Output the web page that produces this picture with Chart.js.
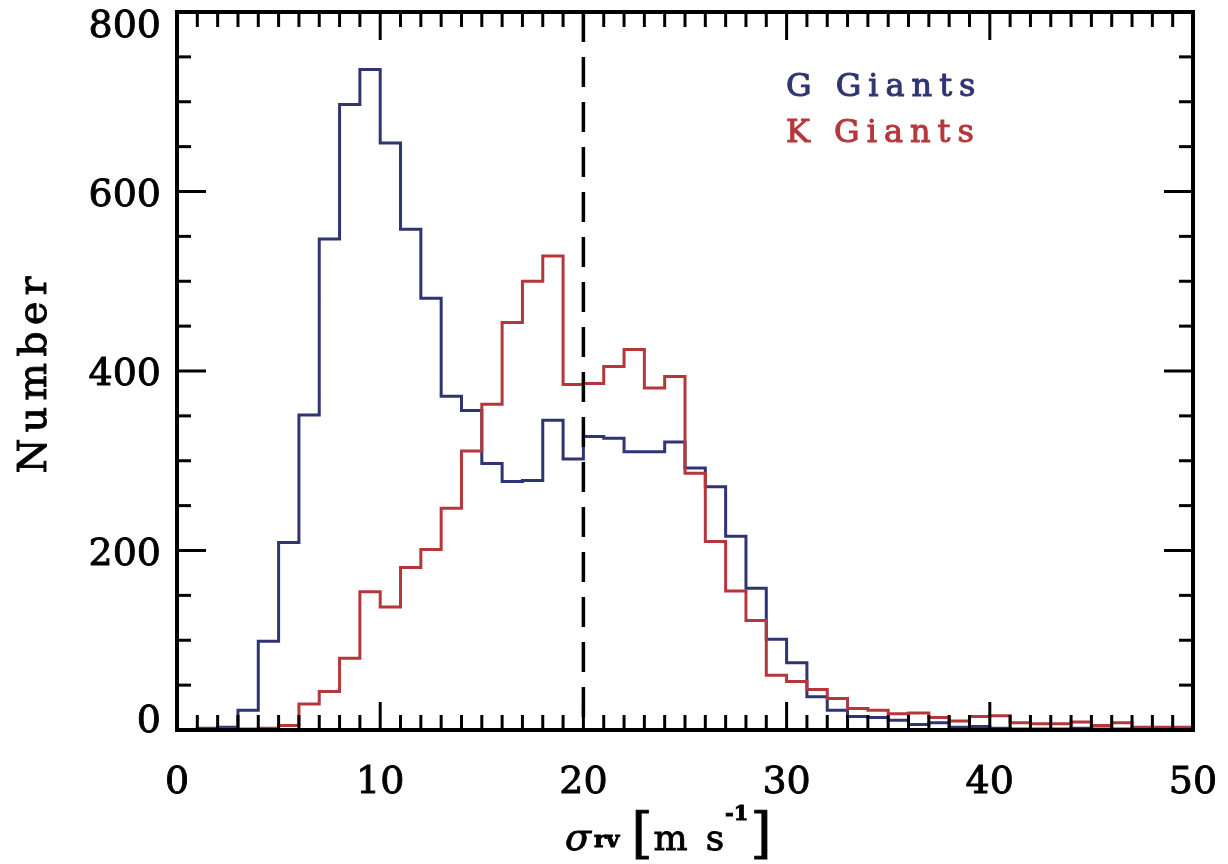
<!DOCTYPE html>
<html>
<head>
<meta charset="utf-8">
<script src="https://cdn.jsdelivr.net/npm/chart.js@4.4.1/dist/chart.umd.min.js"></script>
<style>
  html, body { margin: 0; padding: 0; background: #fff; }
  canvas { display: block; }
</style>
</head>
<body>
<canvas id="hist" width="1228" height="864"></canvas>
<script>
// histogram of RV scatter, 1 m/s bins from 0 to 50
const binStart = 0;
const binWidth = 1;
const gGiants = [0, 2, 3, 22, 99, 209, 351, 547, 697, 736,
                 654, 558, 481, 372, 356, 297, 277, 278, 345, 302,
                 327, 325, 310, 310, 321, 292, 271, 216, 158, 101,
                 75, 37, 22, 15, 14, 11, 6, 8, 3, 4,
                 2, 1, 1, 1, 2, 1, 1, 1, 0, 0];
const kGiants = [0, 1, 1, 1, 2, 5, 29, 43, 80, 154,
                 137, 181, 201, 247, 311, 363, 454, 500, 528, 385,
                 386, 405, 424, 381, 394, 286, 210, 155, 122, 61,
                 54, 45, 35, 24, 22, 18, 19, 14, 10, 15,
                 16, 8, 7, 7, 9, 5, 8, 3, 3, 3];
const refLine = 20;
const xTickLabels = ['0', '10', '20', '30', '40', '50'];
const yTickLabels = ['0', '200', '400', '600', '800'];
const legendNames = ['G Giants', 'K Giants'];

const BLUE = '#2f3572';
const RED = '#b6373b';
const SERIF = "'DejaVu Serif', serif";

// left bin edges + closing edge, drawn as a step line
function toSteps(vals) {
  const pts = vals.map((v, i) => ({ x: binStart + i * binWidth, y: v }));
  pts.push({ x: binStart + vals.length * binWidth, y: vals[vals.length - 1] });
  return pts;
}

// fill + thin stroke, the IDL fonts are a bit heavier than DejaVu
function heavyText(ctx, t, x, y, w = 0.9) {
  ctx.lineWidth = w;
  ctx.strokeStyle = ctx.fillStyle;
  ctx.fillText(t, x, y);
  ctx.strokeText(t, x, y);
}

// IDL-style box: inward ticks on all four sides, dashed marker, labels
const idlFrame = {
  id: 'idlFrame',
  afterDatasetsDraw(chart) {
    const { ctx, chartArea: a, scales: { x, y } } = chart;
    const seg = (x1, y1, x2, y2) => { ctx.beginPath(); ctx.moveTo(x1, y1); ctx.lineTo(x2, y2); ctx.stroke(); };
    ctx.save();
    ctx.strokeStyle = '#000';

    const xr = x.getPixelForValue(refLine);
    ctx.lineWidth = 3.5;
    ctx.setLineDash([30, 15]);
    seg(xr, a.top, xr, a.bottom);
    ctx.setLineDash([]);

    ctx.lineWidth = 3;
    for (let v = x.min; v <= x.max; v += 1) {
      const px = x.getPixelForValue(v);
      const len = v % 10 === 0 ? 28 : 15;
      seg(px, a.bottom, px, a.bottom - len);
      seg(px, a.top, px, a.top + len);
    }
    for (let v = y.min; v <= y.max; v += 50) {
      const py = y.getPixelForValue(v);
      const len = v % 200 === 0 ? 29 : 14;
      seg(a.left, py, a.left + len, py);
      seg(a.right, py, a.right - len, py);
    }
    ctx.lineWidth = 4;
    ctx.strokeRect(a.left, a.top, a.right - a.left, a.bottom - a.top);

    // y tick labels, kept inside the box at the ends
    ctx.fillStyle = '#000';
    ctx.font = '38px ' + SERIF;
    ctx.textAlign = 'right';
    ctx.textBaseline = 'alphabetic';
    yTickLabels.forEach(t => {
      const c = Math.min(Math.max(y.getPixelForValue(Number(t)), a.top + 11), a.bottom - 12);
      heavyText(ctx, t, a.left - 16, c + 14);
    });

    // y title
    ctx.save();
    ctx.translate(46, (a.top + a.bottom) / 2 + 4);
    ctx.rotate(-Math.PI / 2);
    ctx.textAlign = 'center';
    ctx.font = '40px ' + SERIF;
    ctx.letterSpacing = '6px';
    heavyText(ctx, 'Number', 3, 0);
    ctx.restore();

    // x title: sigma_rv [m s^-1]
    ctx.textAlign = 'left';
    const parts = [
      { t: '\u03c3', f: 'italic 38px ' + SERIF, dy: 0 },
      { t: 'rv', f: 'bold 23px ' + SERIF, dy: -3, pad: 3 },
      { t: '[', f: '54px ' + SERIF, dy: 2, pad: 12 },
      { t: 'm', f: '36px ' + SERIF, dy: 0, pad: 1 },
      { t: 's', f: '36px ' + SERIF, dy: 0, pad: 18 },
      { t: '-1', f: 'bold 21px ' + SERIF, dy: -30, pad: 1 },
      { t: ']', f: '54px ' + SERIF, dy: 2, pad: 2 },
    ];
    let cx = 565;
    parts.forEach(p => {
      ctx.font = p.f;
      cx += p.pad || 0;
      heavyText(ctx, p.t, cx, 850 + p.dy);
      cx += ctx.measureText(p.t).width;
    });

    // legend text inside the box
    ctx.font = '32px ' + SERIF;
    ctx.letterSpacing = '7px';
    ctx.fillStyle = BLUE;
    heavyText(ctx, legendNames[0], 786, 96, 1);
    ctx.fillStyle = RED;
    heavyText(ctx, legendNames[1], 786, 142, 1);
    ctx.restore();
  }
};

new Chart(document.getElementById('hist'), {
  type: 'line',
  data: {
    datasets: [
      {
        label: legendNames[1],
        data: toSteps(kGiants),
        borderColor: RED,
        borderWidth: 3,
        stepped: 'before',
        pointRadius: 0,
        fill: false,
        order: 0,
      },
      {
        label: legendNames[0],
        data: toSteps(gGiants),
        borderColor: BLUE,
        borderWidth: 3,
        stepped: 'before',
        pointRadius: 0,
        fill: false,
        order: 1,
      },
    ],
  },
  options: {
    responsive: false,
    animation: false,
    layout: { padding: { top: 12, right: 35, left: 0, bottom: 0 } },
    plugins: {
      legend: { display: false },
      tooltip: { enabled: false },
    },
    scales: {
      x: {
        type: 'linear',
        min: 0, max: 50,
        afterFit: s => {
          s.height = 134;
          // keep the box edge fixed; the end labels fit in the margins
          s.paddingLeft = 0;
          s.paddingRight = 0;
        },
        grid: { display: false },
        border: { display: false },
        ticks: {
          stepSize: 10,
          maxRotation: 0,
          padding: 22,
          color: '#000',
          textStrokeColor: '#000',
          textStrokeWidth: 0.9,
          font: { family: SERIF, size: 38 },
          callback: (v, i) => xTickLabels[i],
        },
      },
      y: {
        min: 0, max: 800,
        afterFit: s => { s.width = 177; },
        grid: { display: false },
        border: { display: false },
        ticks: { display: false },
      },
    },
  },
  plugins: [idlFrame],
});
</script>
</body>
</html>
